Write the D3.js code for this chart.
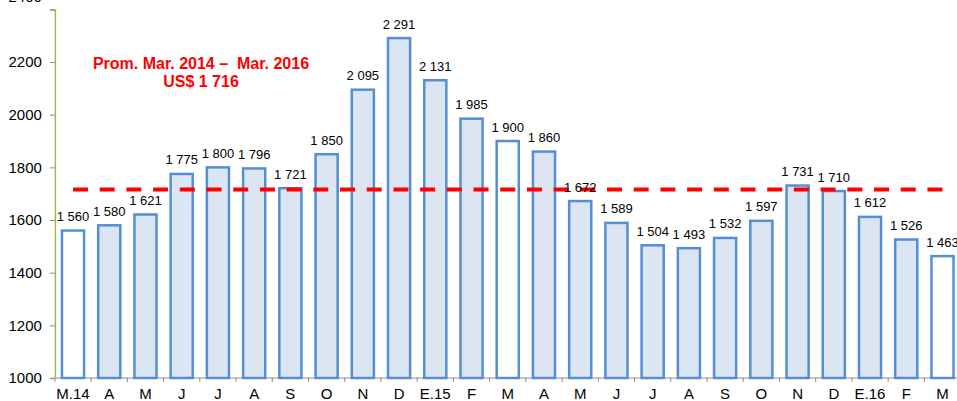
<!DOCTYPE html>
<html><head><meta charset="utf-8">
<script src="https://cdn.jsdelivr.net/npm/d3@7"></script>
<style>
html,body{margin:0;padding:0;background:#fff;}
svg{display:block;font-family:"Liberation Sans",Arial,sans-serif;}
</style></head>
<body>
<svg id="c" width="957" height="401"></svg>
<script>
const categories = ["M.14","A","M","J","J","A","S","O","N","D","E.15","F","M","A","M","J","J","A","S","O","N","D","E.16","F","M"];
const values = [1560,1580,1621,1775,1800,1796,1721,1850,2095,2291,2131,1985,1900,1860,1672,1589,1504,1493,1532,1597,1731,1710,1612,1526,1463];
const highlighted = [true,false,false,false,false,false,false,false,false,false,false,false,true,false,false,false,false,false,false,false,false,false,false,false,true];
const average = 1716;
const yTicks = [1000,1200,1400,1600,1800,2000,2200,2400];
const noteLines = ["Prom. Mar. 2014 \u2013  Mar. 2016","US$ 1 716"];

const svg = d3.select("#c");
const data = categories.map((c,i)=>({i, c, v: values[i], white: highlighted[i]}));

const x = d3.scaleBand().domain(d3.range(categories.length)).range([54.9, 960.6]).paddingInner(0.39).paddingOuter(0.195);
const y = d3.scaleLinear().domain([1000,2400]).range([378, 9.4]);
const fmt = v => { const s = String(v); return s.length>3 ? s.slice(0,s.length-3)+" "+s.slice(-3) : s; };

// x axis line and category-boundary ticks
const step = x.step();
const x0 = x.range()[0];
svg.append("line").attr("x1",x0).attr("x2",957).attr("y1",y(1000)).attr("y2",y(1000)).attr("stroke","#8c8c8c").attr("stroke-width",1);
svg.selectAll(".xt").data(d3.range(categories.length+1)).join("line")
  .attr("x1",d=>x0+d*step).attr("x2",d=>x0+d*step).attr("y1",y(1000)).attr("y2",y(1000)+4)
  .attr("stroke","#8c8c8c");

// y axis
const yAxis = svg.append("g").attr("transform",`translate(${x0},0)`)
  .call(d3.axisLeft(y).tickValues(yTicks).tickSize(5).tickPadding(8).tickFormat(d=>d));
yAxis.select(".domain").attr("stroke","#9bbb59").attr("stroke-width",1.5);
yAxis.selectAll(".tick line").attr("stroke","#8c8c8c");
yAxis.selectAll(".tick text").attr("font-size",15).attr("fill","#000").attr("font-family","Liberation Sans, Arial, sans-serif");
yAxis.selectAll(".tick").filter(d=>d===2400).select("text").attr("dy","-0.55em");

// bars
svg.selectAll(".bar").data(data).join("rect")
  .attr("x",d=>x(d.i)).attr("width",x.bandwidth())
  .attr("y",d=>y(d.v)).attr("height",d=>y(1000)-y(d.v))
  .attr("fill",d=>d.white?"#ffffff":"#dce6f2")
  .attr("stroke","#558ed5").attr("stroke-width",2.5);

// x labels
svg.selectAll(".xl").data(data).join("text")
  .attr("x",d=>x(d.i)+x.bandwidth()/2).attr("y",399)
  .attr("text-anchor","middle").attr("font-size",15).attr("fill","#000").text(d=>d.c);

// average dashed line
svg.append("line")
  .attr("x1",x(0)+x.bandwidth()/2).attr("x2",x(categories.length-1)+x.bandwidth()/2)
  .attr("y1",y(average)).attr("y2",y(average))
  .attr("stroke","#ff0000").attr("stroke-width",4).attr("stroke-dasharray","15,11.7");

// value labels
svg.selectAll(".vl").data(data).join("text")
  .attr("x",d=>x(d.i)+x.bandwidth()/2).attr("y",d=>y(d.v)-9.5)
  .attr("text-anchor","middle").attr("font-size",13).attr("fill","#000").text(d=>fmt(d.v));

// note
svg.selectAll(".note").data(noteLines).join("text")
  .attr("x",201).attr("y",(d,i)=>69+i*18)
  .attr("text-anchor","middle").attr("font-size",16).attr("font-weight","bold").attr("fill","#ff0000")
  .attr("xml:space","preserve").style("white-space","pre").text(d=>d);
</script>
</body></html>
